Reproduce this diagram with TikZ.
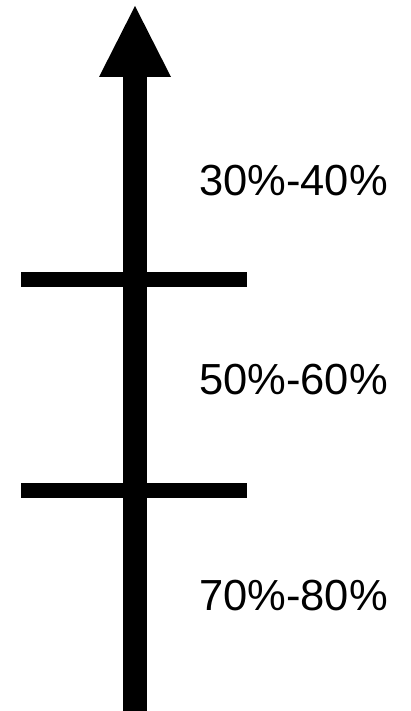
\documentclass[tikz,border=0pt]{standalone}
\usepackage{fontspec}
\setmainfont{Liberation Sans}
\begin{document}
\begin{tikzpicture}[x=1pt,y=-1pt,
  bar/.style={fill=black},
  lbl/.style={anchor=base west,inner sep=0pt,font=\fontsize{43.5}{48}\selectfont}]
\useasboundingbox (0,0) rectangle (410,711);
% shaft and arrowhead
\fill[bar] (123,76) rectangle (147,711);
\fill[bar] (99,77) -- (135,6) -- (171,77) -- cycle;
% tick bars
\fill[bar] (21,272) rectangle (247,287);
\fill[bar] (21,483) rectangle (247,498);
% labels
\node[lbl] (t1) at (199,196) {30\%-40\%};
\node[lbl] (t2) at (199,394) {50\%-60\%};
\node[lbl] (t3) at (199,610) {70\%-80\%};
\end{tikzpicture}
\end{document}
